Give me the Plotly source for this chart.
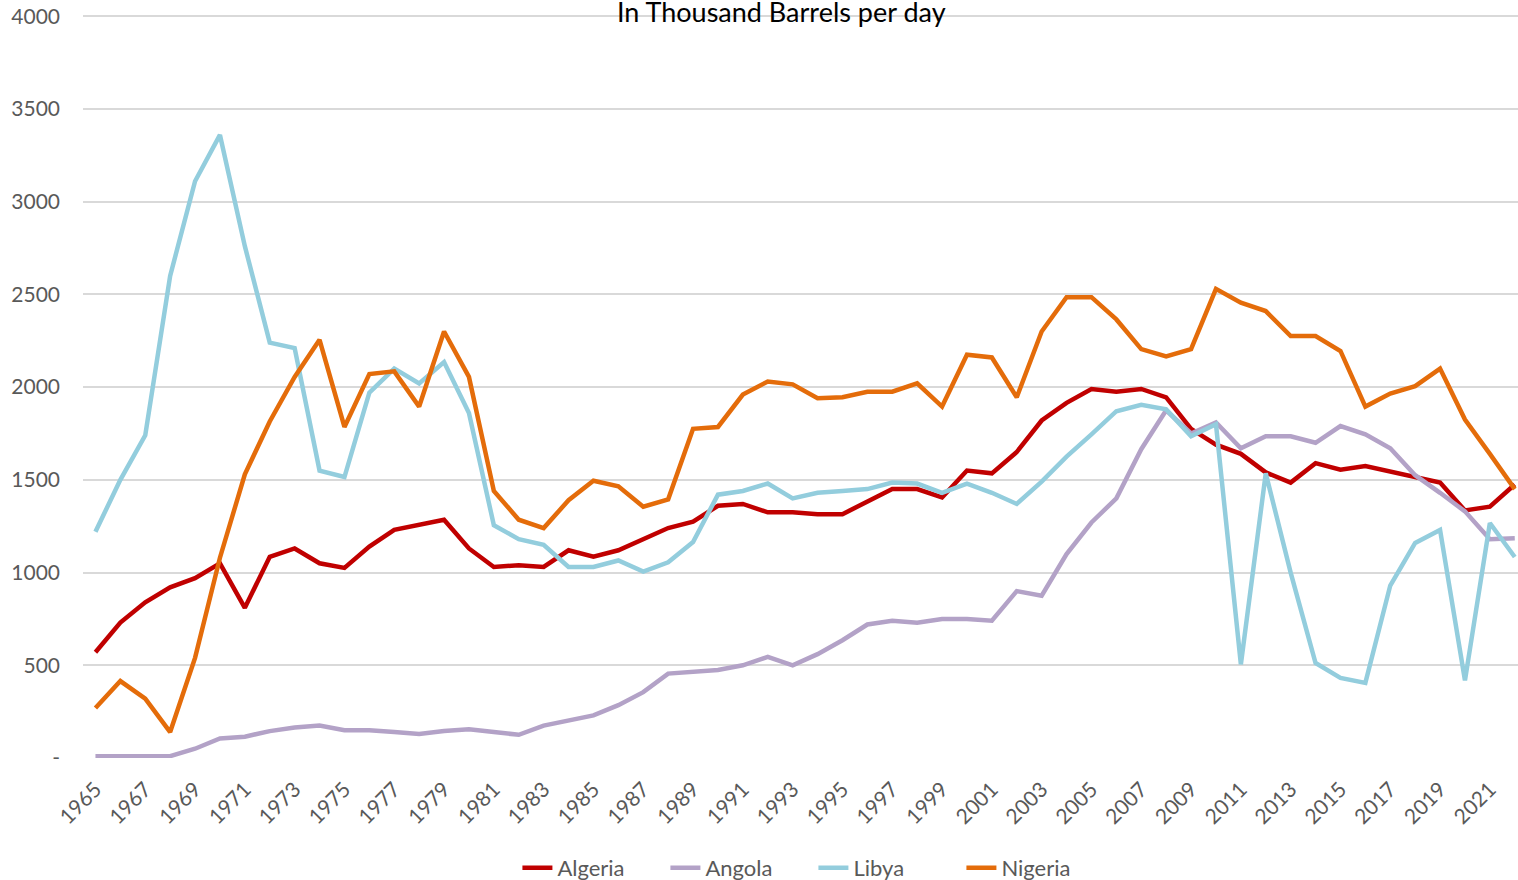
import plotly.graph_objects as go

years = list(range(1965, 2023))

algeria = [570, 730, 840, 920, 970, 1050, 810, 1085, 1130, 1050,
           1025, 1140, 1230, 1255, 1285, 1130, 1030, 1040, 1030, 1120,
           1085, 1120, 1180, 1240, 1275, 1360, 1370, 1325, 1325, 1315,
           1315, 1385, 1450, 1450, 1405, 1550, 1535, 1650, 1820, 1915,
           1990, 1975, 1990, 1945, 1775, 1690, 1640, 1540, 1485, 1590,
           1555, 1575, 1545, 1515, 1485, 1335, 1355, 1475]

angola = [10, 10, 10, 10, 50, 105, 115, 145, 165, 175,
          150, 150, 140, 130, 145, 155, 140, 125, 175, 205,
          230, 285, 355, 455, 465, 475, 500, 545, 500, 560,
          635, 720, 740, 730, 750, 750, 740, 900, 875, 1100,
          1270, 1400, 1665, 1875, 1750, 1810, 1670, 1735, 1735, 1700,
          1790, 1745, 1670, 1525, 1430, 1330, 1180, 1185]

libya = [1220, 1500, 1740, 2600, 3110, 3360, 2760, 2240, 2210, 1550,
         1515, 1970, 2100, 2020, 2135, 1860, 1255, 1180, 1150, 1030,
         1030, 1065, 1005, 1055, 1165, 1420, 1440, 1480, 1400, 1430,
         1440, 1450, 1485, 1480, 1430, 1480, 1430, 1370, 1490, 1625,
         1745, 1870, 1905, 1880, 1735, 1800, 505, 1535, 1000, 512,
         432, 405, 930, 1160, 1230, 418, 1267, 1084]

nigeria = [270, 415, 320, 140, 540, 1080, 1530, 1815, 2055, 2255,
           1785, 2070, 2085, 1895, 2300, 2055, 1440, 1285, 1240, 1390,
           1495, 1465, 1355, 1395, 1775, 1785, 1960, 2030, 2015, 1940,
           1945, 1975, 1975, 2020, 1895, 2175, 2160, 1945, 2300, 2485,
           2485, 2365, 2205, 2165, 2205, 2530, 2455, 2410, 2275, 2275,
           2195, 1895, 1965, 2005, 2100, 1825, 1640, 1450]

series = [("Algeria", algeria, "#C00000"),
          ("Angola", angola, "#B3A2C7"),
          ("Libya", libya, "#93CDDD"),
          ("Nigeria", nigeria, "#E46C0A")]

title_text = "In Thousand Barrels per day"
y_tickvals = [0, 500, 1000, 1500, 2000, 2500, 3000, 3500, 4000]
y_ticktext = ["-", "500", "1000", "1500", "2000", "2500", "3000", "3500", "4000"]
x_tickvals = years[::2]
x_ticktext = [str(y) for y in x_tickvals]

FONT = "Lato, 'Open Sans', sans-serif"

fig = go.Figure()
for name, vals, col in series:
    fig.add_trace(go.Scatter(x=years, y=vals, name=name, mode="lines",
                             line=dict(color=col, width=4.5)))

fig.update_layout(
    width=1518, height=880,
    margin=dict(l=83, r=0, t=14, b=122, autoexpand=False),
    paper_bgcolor="white", plot_bgcolor="white",
    font=dict(family=FONT, color="#595959"),
    showlegend=True,
    legend=dict(orientation="h", x=0.509, xanchor="center", xref="paper",
                yref="container", y=12 / 880, yanchor="middle",
                font=dict(size=22, color="#595959", family=FONT),
                entrywidth=103, entrywidthmode="pixels",
                tracegroupgap=0),
    annotations=[dict(text=title_text, x=0.487, xref="paper", y=1.0, yref="paper",
                      yanchor="middle", yshift=3, showarrow=False,
                      font=dict(size=27, color="#000000", family=FONT))],
)

fig.update_xaxes(range=[1964.5, 2022.13], tickvals=x_tickvals, ticktext=x_ticktext,
                 tickangle=-45, showgrid=False, zeroline=False, showline=False,
                 ticks="", ticklabelstandoff=14,
                 tickfont=dict(size=21, color="#595959"))
fig.update_yaxes(range=[0, 4012], tickvals=y_tickvals, ticktext=y_ticktext,
                 showgrid=True, gridcolor="#D9D9D9", gridwidth=1.5,
                 zeroline=False, showline=False, ticks="", ticklabelstandoff=22,
                 ticklabeloverflow="allow",
                 tickfont=dict(size=21, color="#595959"))

fig.write_html("out.html", config={"displayModeBar": False},
               post_script="document.body.style.margin='0';")
